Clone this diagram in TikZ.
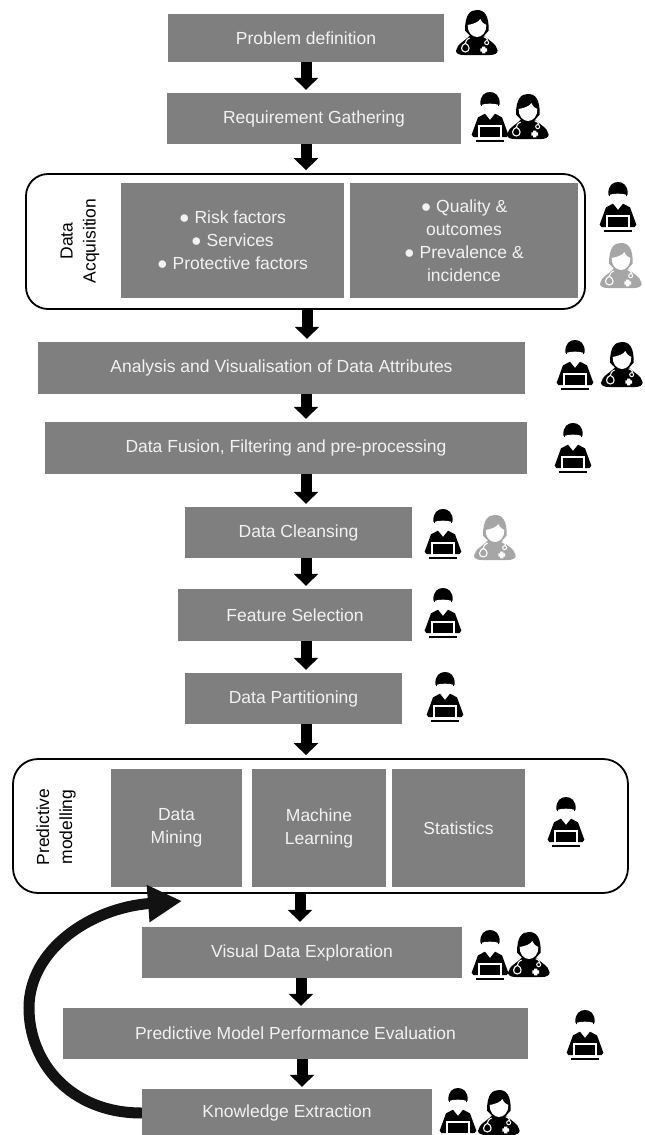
\documentclass[tikz,border=0pt]{standalone}
\usepackage{fontspec}
\setmainfont{Liberation Sans}
\usetikzlibrary{arrows.meta}
\definecolor{boxgrey}{HTML}{7F7F7F}
\definecolor{boxtext}{HTML}{F2F2F2}
\definecolor{fadeicon}{HTML}{A6A6A6}
\tikzset{
  gbox/.style={fill=boxgrey,draw=none,inner sep=0pt,text=boxtext,align=center,font=\fontsize{17.5}{23}\selectfont},
  frame/.style={draw=black,line width=1.8pt,rounded corners=22pt,fill=white,inner sep=0pt},
  sidelabel/.style={rotate=90,align=center,text=black,inner sep=0pt,font=\fontsize{17.5}{23}\selectfont},
  flow/.style={draw=black,line width=11pt,-{Triangle[width=24pt,length=12pt]}},
  loopflow/.style={draw=black!93,line width=11pt,-{Triangle[width=35pt,length=34pt]}},
  pics/doctor/.style={code={
    \begin{scope}[scale=1/3]
    \fill[#1] (-36,62) .. controls (-36,12) and (-20,0) .. (0,0) .. controls (22,0) and (36,15) .. (35,62) -- (20,78) -- (-20,78) -- cycle;
    \fill[#1] (-63,122) .. controls (-60,100) and (-32,92) .. (-18,72) -- (18,72) .. controls (32,92) and (60,100) .. (62,122) .. controls (62,130) and (52,135) .. (40,135) -- (-40,135) .. controls (-55,135) and (-63,130) .. (-63,122) -- cycle;
    \fill[white] (-28,45) .. controls (-10,42) and (5,36) .. (10,27) .. controls (15,38) and (22,43) .. (28,45) .. controls (29,66) and (15,81) .. (0,81) .. controls (-15,81) and (-29,66) .. (-28,45) -- cycle;
    \draw[white,line width=1.1pt] (-22,84) .. controls (-32,88) and (-34,95) .. (-35,100) (-35,100) .. controls (-48,104) and (-52,125) .. (-35,126) .. controls (-18,125) and (-22,104) .. (-35,100);
    \draw[white,line width=1.1pt] (20,80) .. controls (30,84) and (32,88) .. (32,92);
    \draw[white,line width=1pt] (29,98) circle (6);
    \fill[white] (15,110) rectangle (25,130) (10,115) rectangle (30,125);
    \end{scope}}},
  pics/engineer/.style={code={
    \begin{scope}[scale=1/3]
    \fill[#1] (-29,36) .. controls (-30,10) and (-15,0) .. (0,0) .. controls (15,0) and (30,10) .. (29,36) -- (26,42) -- (-26,42) -- cycle;
    \fill[#1] (-55,128) -- (-36,76) -- (-15,65) -- (0,84) -- (15,65) -- (36,76) -- (55,128) -- (50,135) -- (-50,135) -- cycle;
    \fill[white] (-24,38) .. controls (-10,34) and (10,34) .. (24,38) .. controls (24,58) and (12,71) .. (0,71) .. controls (-12,71) and (-24,58) .. (-24,38) -- cycle;
    \fill[white] (-36,100) rectangle (36,140);
    \fill[#1] (-30,106) rectangle (30,136);
    \fill[#1] (-42,143) rectangle (42,149);
    \end{scope}}}
}
\begin{document}
\begin{tikzpicture}[x=1pt,y=-1pt]
\path[use as bounding box] (0,0) rectangle (645,1135);
\coordinate (cola) at (306,0);
\coordinate (colb) at (300,0);

\node[gbox,minimum width=276pt,minimum height=48pt] (problem) at (306,38) {Problem definition};
\node[gbox,minimum width=294pt,minimum height=51pt] (require) at (314,118.5) {Requirement Gathering};

\node[frame,minimum width=559pt,minimum height=135pt] (acq) at (305.5,241.5) {};
\node[gbox,minimum width=223pt,minimum height=115pt] (risk) at (232.5,240.5) {● Risk factors\\● Services\\● Protective factors};
\node[gbox,minimum width=228pt,minimum height=115pt] (quality) at (464,240.5) {● Quality \&\\outcomes\\● Prevalence \&\\incidence};
\node[sidelabel] (acqlabel) at (80,241) {Data\\Acquisition};

\node[gbox,minimum width=487pt,minimum height=52pt] (analysis) at (281.5,368) {Analysis and Visualisation of Data Attributes};
\node[gbox,minimum width=482pt,minimum height=52pt] (fusion) at (286,448) {Data Fusion, Filtering and pre-processing};
\node[gbox,minimum width=227pt,minimum height=51pt] (cleansing) at (298.5,532.5) {Data Cleansing};
\node[gbox,minimum width=234pt,minimum height=52pt] (feature) at (295,615) {Feature Selection};
\node[gbox,minimum width=217pt,minimum height=51pt] (partition) at (293.5,698.5) {Data Partitioning};

\node[frame,rounded corners=25pt,minimum width=615pt,minimum height=134pt] (pred) at (320.5,826) {};
\node[gbox,minimum width=131pt,minimum height=118pt] (mining) at (176.5,828) {Data\\Mining};
\node[gbox,minimum width=134pt,minimum height=118pt] (learning) at (319,828) {Machine\\Learning};
\node[gbox,minimum width=133pt,minimum height=118pt] (stats) at (458.5,828) {Statistics};
\node[sidelabel] (predlabel) at (56,827) {Predictive\\modelling};

\node[gbox,minimum width=320pt,minimum height=51pt] (visual) at (302,952.5) {Visual Data Exploration};
\node[gbox,minimum width=465pt,minimum height=51pt] (perf) at (295.5,1033.5) {Predictive Model Performance Evaluation};
\node[gbox,minimum width=290pt,minimum height=48pt] (know) at (287,1113) {Knowledge Extraction};

\draw[flow,shorten >=3pt] (problem.south -| cola) -- (require.north -| cola);
\draw[flow,shorten >=3pt] (require.south -| cola) -- (acq.north -| cola);
\draw[flow,shorten >=3pt] ([xshift=1pt]acq.south -| cola) -- ([xshift=1pt]analysis.north -| cola);
\draw[flow,shorten >=3pt] (analysis.south -| cola) -- (fusion.north -| cola);
\draw[flow,shorten >=3pt] (fusion.south -| cola) -- (cleansing.north -| cola);
\draw[flow,shorten >=3pt] (cleansing.south -| cola) -- (feature.north -| cola);
\draw[flow,shorten >=3pt] (feature.south -| cola) -- (partition.north -| cola);
\draw[flow,shorten >=3pt] (partition.south -| cola) -- (pred.north -| cola);
\draw[flow,shorten >=5pt] (pred.south -| colb) -- (visual.north -| colb);
\draw[flow,shorten >=2pt] ([xshift=1pt]visual.south -| colb) -- ([xshift=1pt]perf.north -| colb);
\draw[flow,shorten >=2pt] ([xshift=2pt]perf.south -| colb) -- ([xshift=2pt]know.north -| colb);

\coordinate (loopmid) at (29,1008);
\coordinate (loopend) at (182,901);
\draw[loopflow] (know.west) .. controls (70,1113) and (29,1062) .. (loopmid) .. controls (29,950) and (90,908) .. (loopend);

\pic at (477,10) {doctor=black};
\pic at (490,92) {engineer=black};
\pic at (528,94) {doctor=black};
\pic at (618,182) {engineer=black};
\pic at (621,243) {doctor=fadeicon};
\pic at (575,340) {engineer=black};
\pic at (622,342) {doctor=black};
\pic at (573,423) {engineer=black};
\pic at (443,509) {engineer=black};
\pic at (495,515) {doctor=fadeicon};
\pic at (443,588) {engineer=black};
\pic at (445,672) {engineer=black};
\pic at (566,797) {engineer=black};
\pic at (490,930) {engineer=black};
\pic at (529,932) {doctor=black};
\pic at (585,1010) {engineer=black};
\pic at (458,1088) {engineer=black};
\pic at (499,1090) {doctor=black};
\end{tikzpicture}
\end{document}
